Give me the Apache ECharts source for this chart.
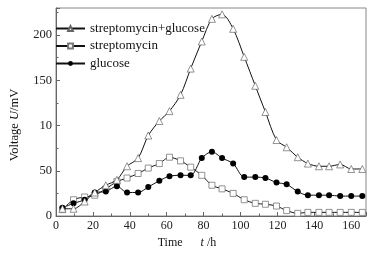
<!DOCTYPE html>
<html>
<head>
<meta charset="utf-8">
<script src="https://cdn.jsdelivr.net/npm/echarts@6/dist/echarts.min.js"></script>
<style>
  html, body { margin: 0; padding: 0; background: #fff; }
  #chart { width: 372px; height: 254px; }
</style>
</head>
<body>
<div id="chart"></div>
<script>
// time points (h)
const times = [3.5, 9.5, 15.5, 21, 27, 33, 38.5, 44.5, 50, 56, 61.5, 67.5, 73, 79, 84.5, 90, 96, 102, 108, 113.5, 119.5, 125, 131, 136.5, 142.5, 148, 154, 160, 166];

// voltage (mV)
const strepGlucose = [8, 8, 16, 26, 34, 40, 55, 64, 89, 105, 116, 134, 163, 193, 218, 223, 207, 176, 144, 115, 84, 76, 65, 58, 55, 55, 57, 52, 52];
const strep = [7, 18, 21, 23, 30, 38, 42, 47, 53, 58, 65, 61, 54, 45, 34, 30, 25, 18, 14, 13, 11, 6, 3, 4, 4, 4, 4, 4, 4];
const glucose = [9, 14, 18, 26, 27, 33, 26, 26, 32, 39, 44, 45, 45, 64, 71, 64, 58, 43, 43, 42, 37, 35, 27, 23, 23, 23, 22, 22, 22];

// y tick labels as printed (the 100 tick reads "10" in the original)
const yTickLabels = { 0: '0', 50: '50', 100: '10', 150: '150', 200: '200' };

const serif = 'Liberation Serif';
const axisColor = '#666';

const chart = echarts.init(document.getElementById('chart'));

const pairs = (ys) => times.map((t, i) => [t, ys[i]]);

const option = {
  animation: false,
  grid: {
    left: 51,
    right: 6,
    top: 8,
    bottom: 38,
    show: true,
    borderColor: '#888',
    borderWidth: 1
  },
  legend: {
    orient: 'vertical',
    left: 50,
    top: 17,
    itemWidth: 29,
    itemHeight: 6,
    itemGap: 4.5,
    textStyle: { fontFamily: serif, fontSize: 13, color: '#111' },
    data: ['streptomycin+glucose', 'streptomycin', 'glucose']
  },
  xAxis: {
    type: 'value',
    min: 0,
    max: 168,
    interval: 20,
    name: 'Time      {i|t} /h',
    nameLocation: 'middle',
    nameGap: 20,
    nameTextStyle: {
      fontFamily: serif, fontSize: 12, color: '#111', padding: [0, 48, 0, 0],
      rich: { i: { fontFamily: serif, fontSize: 12, fontStyle: 'italic', color: '#111' } }
    },
    axisLine: { lineStyle: { color: axisColor } },
    axisTick: { inside: true, length: 4, lineStyle: { color: axisColor } },
    minorTick: { show: true, splitNumber: 2, length: 2.5, lineStyle: { color: axisColor } },
    splitLine: { show: false },
    axisLabel: {
      fontFamily: serif, fontSize: 12, color: '#222', margin: 4,
      formatter: (v) => (v % 20 === 0 ? String(v) : '')
    }
  },
  yAxis: {
    type: 'value',
    min: 0,
    max: 230,
    interval: 50,
    name: 'Voltage {i|U}/mV',
    nameLocation: 'middle',
    nameGap: 35,
    nameTextStyle: {
      fontFamily: serif, fontSize: 12.5, color: '#111', padding: [0, 26, 0, 0],
      rich: { i: { fontFamily: serif, fontSize: 12.5, fontStyle: 'italic', color: '#111' } }
    },
    axisLine: { show: true, lineStyle: { color: axisColor } },
    axisTick: { show: true, inside: true, length: 4, lineStyle: { color: axisColor } },
    minorTick: { show: true, splitNumber: 2, length: 2.5, lineStyle: { color: axisColor } },
    splitLine: { show: false },
    axisLabel: {
      fontFamily: serif, fontSize: 12.5, color: '#222', margin: 4,
      formatter: (v) => (yTickLabels[v] !== undefined ? yTickLabels[v] : '')
    }
  },
  series: [
    {
      name: 'streptomycin+glucose',
      type: 'line',
      data: pairs(strepGlucose),
      smooth: 0.3,
      symbol: 'triangle',
      symbolSize: 7,
      itemStyle: { color: '#fff', borderColor: '#666', borderWidth: 0.7 },
      lineStyle: { color: '#111', width: 1 },
      z: 3
    },
    {
      name: 'streptomycin',
      type: 'line',
      data: pairs(strep),
      smooth: 0.3,
      symbol: 'rect',
      symbolSize: 6,
      itemStyle: { color: '#fff', borderColor: '#777', borderWidth: 0.8 },
      lineStyle: { color: '#111', width: 1 },
      z: 2
    },
    {
      name: 'glucose',
      type: 'line',
      data: pairs(glucose),
      smooth: 0.3,
      symbol: 'circle',
      symbolSize: 6,
      itemStyle: { color: '#000', borderColor: '#000', borderWidth: 0 },
      lineStyle: { color: '#111', width: 1 },
      z: 2
    }
  ]
};

chart.setOption(option);
</script>
</body>
</html>
